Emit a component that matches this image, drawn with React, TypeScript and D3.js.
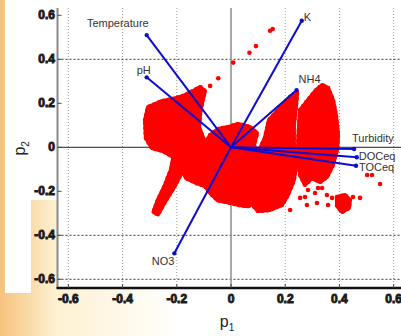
import React, { useEffect, useRef } from 'react';
import * as d3 from 'd3';

// PCA biplot: scores (red cloud) + loadings (blue vectors)
const tickValues = [-0.6, -0.4, -0.2, 0, 0.2, 0.4, 0.6];
const tickLabels = ["-0.6", "-0.4", "-0.2", "0", "0.2", "0.4", "0.6"];
const hGridValues = [0.4, -0.4, -0.6];
const vGridValues = [-0.6, -0.4, -0.2, 0.2, 0.4, 0.6];

const vectorNames = ["Temperature", "pH", "K", "NH4", "Turbidity", "DOCeq", "TOCeq", "NO3"];
const vectorP1 = [-0.311, -0.311, 0.261, 0.242, 0.454, 0.464, 0.461, -0.209];
const vectorP2 = [0.51, 0.318, 0.575, 0.26, -0.008, -0.045, -0.084, -0.482];

// dense parts of the score cloud, outlined as [p1, p2]
const leftLobe: [number, number][] = [
  [-0.317, 0.124], [-0.306, 0.183], [-0.255, 0.21], [-0.214, 0.22], [-0.177, 0.233],
  [-0.14, 0.256], [-0.114, 0.274], [-0.096, 0.256], [-0.107, 0.201], [-0.114, 0.151],
  [-0.118, 0.092], [-0.1, 0.033], [-0.077, -0.003], [-0.114, -0.021], [-0.159, -0.04],
  [-0.207, -0.049], [-0.251, -0.017], [-0.292, -0.003], [-0.314, 0.042],
];
const streak: [number, number][] = [
  [-0.21, -0.03], [-0.175, -0.05], [-0.18, -0.112], [-0.212, -0.185], [-0.246, -0.253],
  [-0.269, -0.305], [-0.286, -0.294], [-0.27, -0.24], [-0.243, -0.171], [-0.222, -0.103],
];
const central: [number, number][] = [
  [-0.077, 0.056], [-0.048, 0.083], [-0.011, 0.092], [0.026, 0.106], [0.07, 0.092],
  [0.096, 0.065], [0.085, 0.01], [0.1, -0.058], [0.105, -0.112], [0.1, -0.171],
  [0.095, -0.24], [0.063, -0.268], [0.026, -0.262], [-0.011, -0.25], [-0.048, -0.242],
  [-0.077, -0.208], [-0.096, -0.176], [-0.129, -0.162], [-0.166, -0.14], [-0.182, -0.09],
  [-0.165, -0.035], [-0.103, -0.003],
];
const rightLobe: [number, number][] = [
  [0.125, 0.042], [0.14, 0.124], [0.181, 0.179], [0.218, 0.229], [0.244, 0.251],
  [0.24, 0.192], [0.232, 0.101], [0.232, 0.01], [0.24, -0.08], [0.232, -0.149],
  [0.21, -0.217], [0.188, -0.262], [0.144, -0.285], [0.1, -0.29], [0.08, -0.262],
  [0.092, -0.194], [0.095, -0.103], [0.105, -0.012],
];
const farRightLobe: [number, number][] = [
  [0.255, 0.17], [0.284, 0.215], [0.314, 0.26], [0.336, 0.283], [0.358, 0.27],
  [0.376, 0.215], [0.387, 0.147], [0.395, 0.056], [0.391, -0.012], [0.376, -0.08],
  [0.354, -0.135], [0.328, -0.158], [0.299, -0.14], [0.273, -0.171], [0.255, -0.126],
  [0.248, -0.058], [0.248, 0.033], [0.251, 0.101],
];
const smallCluster: [number, number][] = [
  [0.391, -0.226], [0.421, -0.217], [0.439, -0.24], [0.435, -0.276], [0.41, -0.294], [0.391, -0.267],
];
const cloudRegions = [leftLobe, streak, central, rightLobe, farRightLobe, smallCluster];

// isolated scores
const scatterP1 = [0.144, 0.154, 0.092, 0.068, 0.008, -0.047, -0.077,
  0.255, 0.284, 0.31, 0.317, 0.28, 0.358, 0.354, 0.321, 0.373, 0.45, 0.476,
  0.502, 0.52, 0.55, 0.336, 0.273, 0.218];
const scatterP2 = [0.53, 0.538, 0.46, 0.43, 0.385, 0.314, 0.279,
  -0.23, -0.194, -0.208, -0.253, -0.262, -0.262, -0.217, -0.185, -0.23, -0.226, -0.23,
  -0.126, -0.126, -0.167, -0.185, -0.226, -0.285];

const labelStyle: Record<string, { dx: number; dy: number; anchor: string; size: number }> = {
  Temperature: { dx: 2, dy: -8, anchor: 'end', size: 11 },
  pH: { dx: 4, dy: -3, anchor: 'end', size: 11 },
  K: { dx: 2, dy: 0, anchor: 'start', size: 11 },
  NH4: { dx: 2, dy: -7, anchor: 'start', size: 11 },
  Turbidity: { dx: -2, dy: -7, anchor: 'start', size: 11 },
  DOCeq: { dx: 2, dy: 3, anchor: 'start', size: 11 },
  TOCeq: { dx: 3, dy: 5, anchor: 'start', size: 11 },
  NO3: { dx: 0, dy: 12, anchor: 'end', size: 11 },
};

export default function App() {
  const svgRef = useRef<SVGSVGElement>(null);

  useEffect(() => {
    if (!svgRef.current) return;
    const svg = d3.select(svgRef.current);
    svg.selectAll("*").remove();

    const width = 401;
    const height = 336;
    const left = 57.5;
    const bottom = 288;
    const top = 8;

    const x = d3.scaleLinear().domain([-0.64, 0.64]).range([left, 404.5]);
    const y = d3.scaleLinear().domain([-0.64, 0.64]).range([288.1, 6.5]);

    // slide background
    const defs = svg.append("defs");
    const grad = defs.append("linearGradient").attr("id", "bg").attr("x1", 0).attr("x2", 1).attr("y1", 0).attr("y2", 0);
    grad.append("stop").attr("offset", "0").attr("stop-color", "#f5c27e");
    grad.append("stop").attr("offset", "0.14").attr("stop-color", "#fdf1d2");
    grad.append("stop").attr("offset", "0.45").attr("stop-color", "#ffffff");
    svg.append("rect").attr("width", width).attr("height", height).attr("fill", "url(#bg)");
    svg.append("rect").attr("x", 5).attr("y", 0).attr("width", 26).attr("height", 293).attr("fill", "#fff");
    svg.append("rect").attr("x", 20).attr("y", 0).attr("width", 38).attr("height", 200).attr("fill", "#fff");
    svg.append("rect").attr("x", left).attr("y", 0).attr("width", width - left).attr("height", bottom).attr("fill", "#fff");

    // grid
    svg.selectAll(".vgrid").data(vGridValues).enter().append("line")
      .attr("x1", d => x(d)).attr("x2", d => x(d)).attr("y1", top).attr("y2", bottom)
      .attr("stroke", "#9a9a9a").attr("stroke-width", 1).attr("stroke-dasharray", "1,2");
    svg.selectAll(".hgrid").data(hGridValues).enter().append("line")
      .attr("x1", left).attr("x2", width).attr("y1", d => y(d)).attr("y2", d => y(d))
      .attr("stroke", "#333").attr("stroke-width", 1).attr("stroke-dasharray", "2,2");

    // zero lines
    svg.append("line").attr("x1", x(0)).attr("x2", x(0)).attr("y1", top).attr("y2", bottom)
      .attr("stroke", "#8c8c8c").attr("stroke-width", 1.5);
    svg.append("line").attr("x1", left).attr("x2", width).attr("y1", y(0)).attr("y2", y(0))
      .attr("stroke", "#222").attr("stroke-width", 1);

    // score cloud
    const area = d3.line<[number, number]>()
      .x(d => x(d[0])).y(d => y(d[1]))
      .curve(d3.curveLinearClosed);
    svg.selectAll(".cloud").data(cloudRegions).enter().append("path")
      .attr("d", d => area(d))
      .attr("fill", "#ff0000").attr("stroke", "#ff0000").attr("stroke-width", 4)
      .attr("stroke-linejoin", "round");
    // ragged edge of the cloud
    svg.selectAll(".cloudEdge").data(cloudRegions).enter().append("path")
      .attr("d", d => area(d))
      .attr("fill", "none").attr("stroke", "#ff0000").attr("stroke-width", 4.5)
      .attr("stroke-linecap", "round").attr("stroke-dasharray", "0,5");
    svg.selectAll(".dot").data(scatterP1).enter().append("circle")
      .attr("cx", d => x(d)).attr("cy", (d, i) => y(scatterP2[i]))
      .attr("r", 2.3).attr("fill", "#ff0000");

    // loading vectors
    const g = svg.append("g");
    vectorNames.forEach((name, i) => {
      g.append("line")
        .attr("x1", x(0)).attr("y1", y(0)).attr("x2", x(vectorP1[i])).attr("y2", y(vectorP2[i]))
        .attr("stroke", "#0c0cd0").attr("stroke-width", 2);
      g.append("circle").attr("cx", x(vectorP1[i])).attr("cy", y(vectorP2[i])).attr("r", 2.2).attr("fill", "#0c0cd0");
      const s = labelStyle[name];
      g.append("text")
        .attr("x", x(vectorP1[i]) + s.dx).attr("y", y(vectorP2[i]) + s.dy)
        .attr("text-anchor", s.anchor)
        .attr("font-family", "Liberation Sans, Arial, sans-serif")
        .attr("font-size", s.size)
        .attr("fill", "#333")
        .text(name);
    });

    // axes
    svg.append("line").attr("x1", left).attr("x2", left).attr("y1", top).attr("y2", bottom)
      .attr("stroke", "#8a8a8a").attr("stroke-width", 2);
    svg.append("line").attr("x1", left - 1).attr("x2", width).attr("y1", bottom).attr("y2", bottom)
      .attr("stroke", "#111").attr("stroke-width", 2.5);
    svg.selectAll(".ytick").data(tickValues).enter().append("line")
      .attr("x1", left).attr("x2", left + 4).attr("y1", d => y(d)).attr("y2", d => y(d))
      .attr("stroke", "#444").attr("stroke-width", 1);
    svg.selectAll(".xtick").data(tickValues).enter().append("line")
      .attr("x1", d => x(d)).attr("x2", d => x(d)).attr("y1", bottom).attr("y2", bottom - 4)
      .attr("stroke", "#444").attr("stroke-width", 1);

    const tickFont = (sel: d3.Selection<SVGTextElement, number, SVGSVGElement, unknown>) =>
      sel.attr("font-family", "Liberation Sans, Arial, sans-serif").attr("font-size", 12)
        .attr("font-weight", "bold").attr("fill", "#1a1a1a")
        .attr("stroke", "#1a1a1a").attr("stroke-width", 0.9);

    svg.selectAll(".ylab").data(tickValues).enter().append("text")
      .attr("x", 55).attr("y", d => y(d) + 4).attr("text-anchor", "end")
      .text((d, i) => tickLabels[i]).call(tickFont);
    svg.selectAll(".xlab").data(tickValues).enter().append("text")
      .attr("x", d => x(d)).attr("y", 303).attr("text-anchor", "middle")
      .text((d, i) => tickLabels[i]).call(tickFont);

    // axis titles
    const p1 = svg.append("text").attr("x", x(0) - 4).attr("y", 327).attr("text-anchor", "middle")
      .attr("font-family", "Liberation Sans, Arial, sans-serif").attr("font-size", 16).attr("fill", "#222");
    p1.append("tspan").text("p");
    p1.append("tspan").attr("font-size", 10).attr("dy", 4).text("1");
    const p2 = svg.append("text").attr("transform", `translate(25,${y(0) + 1}) rotate(-90)`).attr("text-anchor", "middle")
      .attr("font-family", "Liberation Sans, Arial, sans-serif").attr("font-size", 16).attr("fill", "#222");
    p2.append("tspan").text("p");
    p2.append("tspan").attr("font-size", 10).attr("dy", 4).text("2");
  }, []);

  return (
    <div style={{ position: 'absolute', left: 0, top: 0 }}>
      <svg ref={svgRef} width="401" height="336" style={{ display: 'block' }} />
    </div>
  );
}
